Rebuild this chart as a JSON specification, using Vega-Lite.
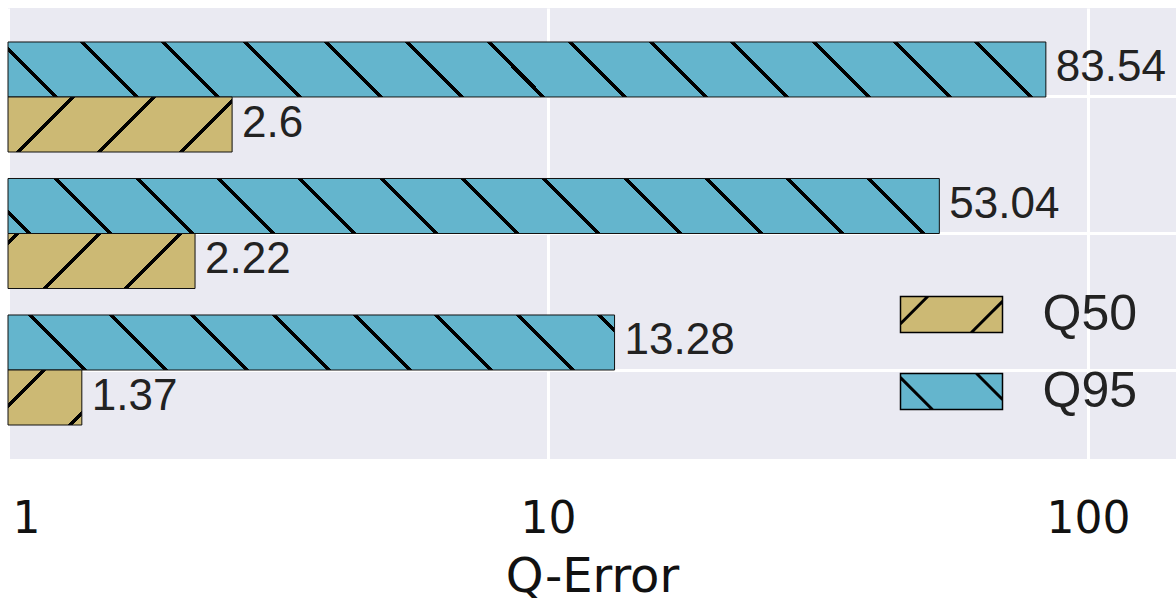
{
  "$schema": "https://vega.github.io/schema/vega-lite/v6.json",
  "width": 1168,
  "height": 451,
  "autosize": "none",
  "padding": {"left": 8, "top": 8, "right": 0, "bottom": 144},
  "background": "white",
  "config": {
    "view": {"fill": "#EAEAF2", "stroke": null},
    "font": "Liberation Sans"
  },
  "data": {"values": [
    {"group": "A", "series": "Q95", "value": 83.54},
    {"group": "A", "series": "Q50", "value": 2.6},
    {"group": "B", "series": "Q95", "value": 53.04},
    {"group": "B", "series": "Q50", "value": 2.22},
    {"group": "C", "series": "Q95", "value": 13.28},
    {"group": "C", "series": "Q50", "value": 1.37}
  ]},
  "encoding": {
    "y": {
      "field": "group", "type": "nominal",
      "scale": {"paddingInner": 0.194, "paddingOuter": 0.249},
      "axis": {"title": null, "labels": false, "ticks": false, "domain": false, "grid": true, "gridColor": "#FFFFFF", "gridWidth": 3, "bandPosition": 0.5}
    },
    "yOffset": {"field": "series", "type": "nominal", "sort": ["Q95", "Q50"]},
    "x": {
      "field": "value", "type": "quantitative", "stack": null,
      "scale": {"type": "log", "domain": [1, 145.5]},
      "axis": {
        "values": [1, 10, 100], "format": "~g", "title": "Q-Error",
        "titleFont": "DejaVu Sans", "titleFontSize": 48, "titleFontWeight": "normal", "titleColor": "#111111", "titlePadding": 12,
        "labelFont": "DejaVu Sans", "labelFontSize": 44, "labelColor": "#111111", "labelPadding": 38, "labelFlush": true, "labelFlushOffset": -4,
        "ticks": false, "domain": false, "grid": true, "gridColor": "#FFFFFF", "gridWidth": 3
      }
    }
  },
  "layer": [
    {
      "mark": {"type": "bar"},
      "encoding": {
        "x2": {"datum": 1},
        "color": {
          "field": "series", "type": "nominal",
          "scale": {"domain": ["Q50", "Q95"], "range": ["#CCB974", "#64B5CD"]},
          "legend": {
            "orient": "none", "legendX": 891.5, "legendY": 254.5, "title": null, "padding": 0,
            "labelFontSize": 50, "labelColor": "#222222", "labelFont": "Liberation Sans", "labelOffset": 39, "labelLimit": 0,
            "symbolSize": 10404, "symbolStrokeColor": "#000000", "symbolStrokeWidth": 1.5, "symbolOpacity": 1, "rowPadding": -2,
            "encode": {"symbols": {"update": {
              "stroke": {"value": "#000000"},
              "strokeWidth": {"value": 1.5},
              "shape": {"signal": "datum.value === 'Q50' ? 'M-1,-0.353L1,-0.353L1,0.353L-1,0.353Z M-1,0.2L-0.447,-0.353 M-1,0.16L-0.487,-0.353 M-1,0.18L-0.467,-0.353 M0.37,0.353L1,-0.277 M0.41,0.353L1,-0.237 M0.39,0.353L1,-0.257' : 'M-1,-0.353L1,-0.353L1,0.353L-1,0.353Z M-1,-0.292L-0.355,0.353 M-1,-0.252L-0.395,0.353 M-1,-0.272L-0.375,0.353 M0.471,-0.353L1,0.176 M0.511,-0.353L1,0.136 M0.491,-0.353L1,0.156'"}
            }}}
          }
        }
      }
    },
    {
      "mark": {"type": "bar", "stroke": "#111111", "strokeWidth": 1},
      "encoding": {
        "x2": {"datum": 1},
        "fill": {
          "condition": [
            {"test": "datum.group === 'A' && datum.series === 'Q95'", "value": {"gradient": "linear", "x1": 0, "y1": 1, "x2": 1.05004, "y2": 0.94436, "stops": [
              {"offset": 0.04136, "color": "#64B5CD"}, {"offset": 0.04136, "color": "#000000"}, {"offset": 0.04594, "color": "#000000"}, {"offset": 0.04594, "color": "#64B5CD"},
              {"offset": 0.11575, "color": "#64B5CD"}, {"offset": 0.11575, "color": "#000000"}, {"offset": 0.12033, "color": "#000000"}, {"offset": 0.12033, "color": "#64B5CD"},
              {"offset": 0.19014, "color": "#64B5CD"}, {"offset": 0.19014, "color": "#000000"}, {"offset": 0.19472, "color": "#000000"}, {"offset": 0.19472, "color": "#64B5CD"},
              {"offset": 0.26453, "color": "#64B5CD"}, {"offset": 0.26453, "color": "#000000"}, {"offset": 0.26911, "color": "#000000"}, {"offset": 0.26911, "color": "#64B5CD"},
              {"offset": 0.33892, "color": "#64B5CD"}, {"offset": 0.33892, "color": "#000000"}, {"offset": 0.34350, "color": "#000000"}, {"offset": 0.34350, "color": "#64B5CD"},
              {"offset": 0.41331, "color": "#64B5CD"}, {"offset": 0.41331, "color": "#000000"}, {"offset": 0.41789, "color": "#000000"}, {"offset": 0.41789, "color": "#64B5CD"},
              {"offset": 0.48770, "color": "#64B5CD"}, {"offset": 0.48770, "color": "#000000"}, {"offset": 0.49228, "color": "#000000"}, {"offset": 0.49228, "color": "#64B5CD"},
              {"offset": 0.56209, "color": "#64B5CD"}, {"offset": 0.56209, "color": "#000000"}, {"offset": 0.56667, "color": "#000000"}, {"offset": 0.56667, "color": "#64B5CD"},
              {"offset": 0.63648, "color": "#64B5CD"}, {"offset": 0.63648, "color": "#000000"}, {"offset": 0.64106, "color": "#000000"}, {"offset": 0.64106, "color": "#64B5CD"},
              {"offset": 0.71087, "color": "#64B5CD"}, {"offset": 0.71087, "color": "#000000"}, {"offset": 0.71545, "color": "#000000"}, {"offset": 0.71545, "color": "#64B5CD"},
              {"offset": 0.78526, "color": "#64B5CD"}, {"offset": 0.78526, "color": "#000000"}, {"offset": 0.78984, "color": "#000000"}, {"offset": 0.78984, "color": "#64B5CD"},
              {"offset": 0.85965, "color": "#64B5CD"}, {"offset": 0.85965, "color": "#000000"}, {"offset": 0.86423, "color": "#000000"}, {"offset": 0.86423, "color": "#64B5CD"},
              {"offset": 0.93404, "color": "#64B5CD"}, {"offset": 0.93404, "color": "#000000"}, {"offset": 0.93862, "color": "#000000"}, {"offset": 0.93862, "color": "#64B5CD"}
            ]}},
            {"test": "datum.group === 'A' && datum.series === 'Q50'", "value": {"gradient": "linear", "x1": 0, "y1": 0, "x2": 1.17467, "y2": 0.28829, "stops": [
              {"offset": 0.22394, "color": "#CCB974"}, {"offset": 0.22394, "color": "#000000"}, {"offset": 0.24185, "color": "#000000"}, {"offset": 0.24185, "color": "#CCB974"},
              {"offset": 0.51523, "color": "#CCB974"}, {"offset": 0.51523, "color": "#000000"}, {"offset": 0.53314, "color": "#000000"}, {"offset": 0.53314, "color": "#CCB974"},
              {"offset": 0.80652, "color": "#CCB974"}, {"offset": 0.80652, "color": "#000000"}, {"offset": 0.82443, "color": "#000000"}, {"offset": 0.82443, "color": "#CCB974"}
            ]}},
            {"test": "datum.group === 'B' && datum.series === 'Q95'", "value": {"gradient": "linear", "x1": 0, "y1": 1, "x2": 1.05539, "y2": 0.93767, "stops": [
              {"offset": 0.019365, "color": "#64B5CD"}, {"offset": 0.019365, "color": "#000000"}, {"offset": 0.024435, "color": "#000000"}, {"offset": 0.024435, "color": "#64B5CD"},
              {"offset": 0.101795, "color": "#64B5CD"}, {"offset": 0.101795, "color": "#000000"}, {"offset": 0.106864, "color": "#000000"}, {"offset": 0.106864, "color": "#64B5CD"},
              {"offset": 0.184224, "color": "#64B5CD"}, {"offset": 0.184224, "color": "#000000"}, {"offset": 0.189293, "color": "#000000"}, {"offset": 0.189293, "color": "#64B5CD"},
              {"offset": 0.266653, "color": "#64B5CD"}, {"offset": 0.266653, "color": "#000000"}, {"offset": 0.271723, "color": "#000000"}, {"offset": 0.271723, "color": "#64B5CD"},
              {"offset": 0.349082, "color": "#64B5CD"}, {"offset": 0.349082, "color": "#000000"}, {"offset": 0.354152, "color": "#000000"}, {"offset": 0.354152, "color": "#64B5CD"},
              {"offset": 0.431512, "color": "#64B5CD"}, {"offset": 0.431512, "color": "#000000"}, {"offset": 0.436581, "color": "#000000"}, {"offset": 0.436581, "color": "#64B5CD"},
              {"offset": 0.513941, "color": "#64B5CD"}, {"offset": 0.513941, "color": "#000000"}, {"offset": 0.519010, "color": "#000000"}, {"offset": 0.519010, "color": "#64B5CD"},
              {"offset": 0.596370, "color": "#64B5CD"}, {"offset": 0.596370, "color": "#000000"}, {"offset": 0.601440, "color": "#000000"}, {"offset": 0.601440, "color": "#64B5CD"},
              {"offset": 0.678800, "color": "#64B5CD"}, {"offset": 0.678800, "color": "#000000"}, {"offset": 0.683869, "color": "#000000"}, {"offset": 0.683869, "color": "#64B5CD"},
              {"offset": 0.761229, "color": "#64B5CD"}, {"offset": 0.761229, "color": "#000000"}, {"offset": 0.766298, "color": "#000000"}, {"offset": 0.766298, "color": "#64B5CD"},
              {"offset": 0.843658, "color": "#64B5CD"}, {"offset": 0.843658, "color": "#000000"}, {"offset": 0.848728, "color": "#000000"}, {"offset": 0.848728, "color": "#64B5CD"},
              {"offset": 0.926087, "color": "#64B5CD"}, {"offset": 0.926087, "color": "#000000"}, {"offset": 0.931157, "color": "#000000"}, {"offset": 0.931157, "color": "#64B5CD"}
            ]}},
            {"test": "datum.group === 'B' && datum.series === 'Q50'", "value": {"gradient": "linear", "x1": 0, "y1": 0, "x2": 1.19108, "y2": 0.35032, "stops": [
              {"offset": 0.03016, "color": "#CCB974"}, {"offset": 0.03016, "color": "#000000"}, {"offset": 0.05083, "color": "#000000"}, {"offset": 0.05083, "color": "#CCB974"},
              {"offset": 0.36611, "color": "#CCB974"}, {"offset": 0.36611, "color": "#000000"}, {"offset": 0.38678, "color": "#000000"}, {"offset": 0.38678, "color": "#CCB974"},
              {"offset": 0.70207, "color": "#CCB974"}, {"offset": 0.70207, "color": "#000000"}, {"offset": 0.72273, "color": "#000000"}, {"offset": 0.72273, "color": "#CCB974"}
            ]}},
            {"test": "datum.group === 'C' && datum.series === 'Q95'", "value": {"gradient": "linear", "x1": 0, "y1": 1, "x2": 1.08178, "y2": 0.90192, "stops": [
              {"offset": 0.11230, "color": "#64B5CD"}, {"offset": 0.11230, "color": "#000000"}, {"offset": 0.11987, "color": "#000000"}, {"offset": 0.11987, "color": "#64B5CD"},
              {"offset": 0.23518, "color": "#64B5CD"}, {"offset": 0.23518, "color": "#000000"}, {"offset": 0.24275, "color": "#000000"}, {"offset": 0.24275, "color": "#64B5CD"},
              {"offset": 0.35807, "color": "#64B5CD"}, {"offset": 0.35807, "color": "#000000"}, {"offset": 0.36563, "color": "#000000"}, {"offset": 0.36563, "color": "#64B5CD"},
              {"offset": 0.48095, "color": "#64B5CD"}, {"offset": 0.48095, "color": "#000000"}, {"offset": 0.48852, "color": "#000000"}, {"offset": 0.48852, "color": "#64B5CD"},
              {"offset": 0.60384, "color": "#64B5CD"}, {"offset": 0.60384, "color": "#000000"}, {"offset": 0.61140, "color": "#000000"}, {"offset": 0.61140, "color": "#64B5CD"},
              {"offset": 0.72672, "color": "#64B5CD"}, {"offset": 0.72672, "color": "#000000"}, {"offset": 0.73429, "color": "#000000"}, {"offset": 0.73429, "color": "#64B5CD"},
              {"offset": 0.84960, "color": "#64B5CD"}, {"offset": 0.84960, "color": "#000000"}, {"offset": 0.85717, "color": "#000000"}, {"offset": 0.85717, "color": "#64B5CD"},
              {"offset": 0.97249, "color": "#64B5CD"}, {"offset": 0.97249, "color": "#000000"}, {"offset": 0.98005, "color": "#000000"}, {"offset": 0.98005, "color": "#64B5CD"}
            ]}},
            {"test": "datum.group === 'C' && datum.series === 'Q50'", "value": {"gradient": "linear", "x1": 0, "y1": 0, "x2": 1.12206, "y2": 0.83623, "stops": [
              {"offset": 0.25932, "color": "#CCB974"}, {"offset": 0.25932, "color": "#000000"}, {"offset": 0.29814, "color": "#000000"}, {"offset": 0.29814, "color": "#CCB974"},
              {"offset": 0.89053, "color": "#CCB974"}, {"offset": 0.89053, "color": "#000000"}, {"offset": 0.92935, "color": "#000000"}, {"offset": 0.92935, "color": "#CCB974"}
            ]}}
          ],
          "value": "#999999"
        }
      }
    },
    {
      "mark": {"type": "text", "align": "left", "baseline": "middle", "dx": 10, "dy": -1, "fontSize": 44, "font": "Liberation Sans"},
      "encoding": {
        "text": {"field": "value", "type": "quantitative", "format": "~g"},
        "color": {"value": "#222222"}
      }
    }
  ]
}
